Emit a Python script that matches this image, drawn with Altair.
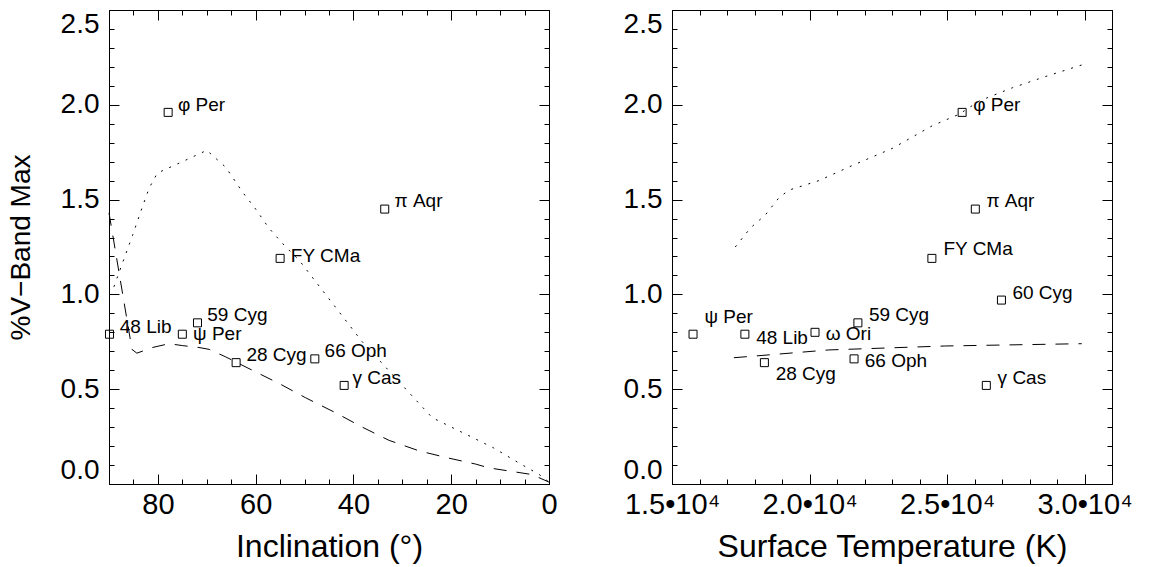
import altair as alt
import pandas as pd

# ---------------- data ----------------
# Left panel: inclination vs %V-band max
left_names = ["φ Per", "π Aqr", "FY CMa", "48 Lib", "59 Cyg", "ψ Per", "28 Cyg", "66 Oph", "γ Cas"]
left_incl = [77.9, 33.6, 55.0, 89.9, 71.9, 75.0, 64.0, 47.9, 41.9]
left_vmax = [1.96, 1.45, 1.19, 0.79, 0.85, 0.79, 0.64, 0.66, 0.52]
left_label_incl = [75.9, 31.6, 52.8, 87.8, 69.9, 72.8, 61.9, 45.9, 40.2]
left_label_vmax = [2.00, 1.49, 1.20, 0.83, 0.89, 0.79, 0.68, 0.70, 0.56]

# model curves, left panel
dot_incl = [89.0, 86.9, 85.2, 83.2, 81.8, 80.1, 75.0, 70.0, 66.1, 62.7, 60.0, 57.3, 54.2, 51.1, 38.2, 23.9, 11.3, 6.1, 2.0, 0.0]
dot_vmax = [1.04, 1.19, 1.31, 1.46, 1.56, 1.64, 1.70, 1.76, 1.67, 1.54, 1.45, 1.35, 1.26, 1.18, 0.75, 0.35, 0.19, 0.11, 0.05, 0.01]
dash_incl = [90.0, 85.3, 84.3, 81.1, 77.7, 75.0, 71.6, 69.5, 66.1, 60.7, 55.2, 49.8, 43.6, 38.2, 32.7, 26.6, 21.1, 15.0, 12.3, 3.5, 0.0]
dash_vmax = [1.43, 0.71, 0.69, 0.72, 0.74, 0.73, 0.72, 0.71, 0.67, 0.60, 0.53, 0.455, 0.375, 0.30, 0.23, 0.175, 0.14, 0.105, 0.085, 0.05, 0.01]

# Right panel: surface temperature vs %V-band max
right_names = ["φ Per", "π Aqr", "FY CMa", "60 Cyg", "ψ Per", "48 Lib", "ω Ori", "59 Cyg", "28 Cyg", "66 Oph", "γ Cas"]
right_teff = [25550, 26030, 24450, 26980, 15765, 17650, 20200, 21760, 18360, 21620, 26430]
right_vmax = [1.96, 1.45, 1.19, 0.97, 0.79, 0.79, 0.80, 0.85, 0.64, 0.66, 0.52]
right_label_teff = [25950, 26435, 24870, 27380, 16180, 18060, 20590, 22160, 18770, 22010, 26840]
right_label_vmax = [2.00, 1.49, 1.24, 1.01, 0.88, 0.77, 0.79, 0.89, 0.58, 0.65, 0.56]

rdot_teff = [17300, 17850, 18400, 18890, 19250, 20340, 21560, 23010, 24470, 25440, 26170, 27380, 28600, 29900]
rdot_vmax = [1.25, 1.35, 1.42, 1.51, 1.55, 1.60, 1.68, 1.77, 1.89, 1.95, 2.02, 2.09, 2.15, 2.21]
rdash_teff = [17250, 20700, 24950, 29900]
rdash_vmax = [0.666, 0.707, 0.728, 0.740]

# axis ticks
incl_major = [80, 60, 40, 20, 0]
incl_minor = [85, 75, 70, 65, 55, 50, 45, 35, 30, 25, 15, 10, 5]
teff_major = [15000, 20000, 25000, 30000]
teff_minor = [16000, 17000, 18000, 19000, 21000, 22000, 23000, 24000,
              26000, 27000, 28000, 29000]
v_major = [0.0, 0.5, 1.0, 1.5, 2.0, 2.5]
v_minor = [0.1, 0.2, 0.3, 0.4, 0.6, 0.7, 0.8, 0.9, 1.1, 1.2, 1.3, 1.4,
           1.6, 1.7, 1.8, 1.9, 2.1, 2.2, 2.3, 2.4]

# ---------------- chart ----------------
FONT = "Liberation Sans"
W, H = 440, 474
MAJ, MIN = 10, 5

yscale = alt.Scale(domain=[0, 2.5], nice=False, zero=False)


def tick_axis(orient, offset, values, size, domain):
    return alt.Axis(orient=orient, offset=offset, values=values, labels=False,
                    title=None, grid=False, tickSize=size, tickColor="#000000",
                    domain=domain, domainColor="black", domainWidth=1,
                    zindex=1)


def make_panel(names, xs, ys, lx, ly, dx, dy, ddx, ddy, xscale,
               main_x_axis, main_y_axis, xmaj, xmin):
    pts = pd.DataFrame({"x": xs, "y": ys})
    labs = pd.DataFrame({"x": lx, "y": ly, "name": names})
    dotted = pd.DataFrame({"x": dx, "y": dy})
    dashed = pd.DataFrame({"x": ddx, "y": ddy})

    def enc(xaxis=None, yaxis=None):
        return dict(
            x=alt.X("x:Q", scale=xscale, axis=xaxis),
            y=alt.Y("y:Q", scale=yscale, axis=yaxis),
        )

    layers = [
        alt.Chart(dotted).mark_line(color="black", strokeWidth=1,
                                    strokeDash=[2, 7])
        .encode(**enc()),
        alt.Chart(dashed).mark_line(color="black", strokeWidth=1,
                                    strokeDash=[13, 10])
        .encode(**enc()),
        alt.Chart(pts).mark_point(shape="square", filled=False, size=64,
                                  color="black", strokeWidth=1, opacity=1)
        .encode(**enc()),
        alt.Chart(labs).mark_text(align="left", baseline="middle", font=FONT,
                                  fontSize=19, color="black")
        .encode(text="name:N", **enc()),
        # main axes: labels, titles, bottom/left frame lines
        alt.Chart(pts).mark_point(opacity=0)
        .encode(**enc(main_x_axis, main_y_axis)),
        # inward ticks on the bottom and left edges
        alt.Chart(pts).mark_point(opacity=0)
        .encode(**enc(tick_axis("top", -H, xmaj, MAJ, False),
                      tick_axis("right", -W, v_major, MAJ, False))),
        alt.Chart(pts).mark_point(opacity=0)
        .encode(**enc(tick_axis("top", -H, xmin, MIN, False),
                      tick_axis("right", -W, v_minor, MIN, False))),
        # inward ticks on the top and right edges, plus frame lines
        alt.Chart(pts).mark_point(opacity=0)
        .encode(**enc(tick_axis("bottom", -H, xmaj, MAJ, True),
                      tick_axis("left", -W, v_major, MAJ, True))),
        alt.Chart(pts).mark_point(opacity=0)
        .encode(**enc(tick_axis("bottom", -H, xmin, MIN, False),
                      tick_axis("left", -W, v_minor, MIN, False))),
    ]
    return (alt.layer(*layers)
            .resolve_axis(x="independent", y="independent")
            .properties(width=W, height=H))


def x_axis(title, values, expr=None):
    kw = dict(orient="bottom", title=title, values=values, ticks=False,
              domain=True, domainColor="black", domainWidth=1, grid=False,
              labelFont=FONT, labelFontSize=29, labelColor="black",
              labelPadding=6, labelFlush=False, labelOverlap=False,
              titleFont=FONT, titleFontSize=32, titleFontWeight="normal",
              titleColor="black", titlePadding=12)
    if expr:
        kw["labelExpr"] = expr
    else:
        kw["format"] = "d"
    return alt.Axis(**kw)


def y_axis(title):
    kw = dict(orient="left", values=v_major, format=".1f", ticks=False,
              domain=True, domainColor="black", domainWidth=1,
              grid=False, labelFont=FONT, labelFontSize=28, labelColor="black",
              labelPadding=10, labelFlush=True,
              titleFont=FONT, titleFontSize=28, titleFontWeight="normal",
              titleColor="black", titlePadding=25)
    kw["title"] = title if title else None
    return alt.Axis(**kw)


left = make_panel(
    left_names, left_incl, left_vmax, left_label_incl, left_label_vmax,
    dot_incl, dot_vmax, dash_incl, dash_vmax,
    alt.Scale(domain=[0, 90], reverse=True, nice=False, zero=False),
    x_axis("Inclination (°)", incl_major),
    y_axis("%V\u2212Band Max"),
    incl_major, incl_minor)

right = make_panel(
    right_names, right_teff, right_vmax, right_label_teff, right_label_vmax,
    rdot_teff, rdot_vmax, rdash_teff, rdash_vmax,
    alt.Scale(domain=[15000, 31000], nice=False, zero=False),
    x_axis("Surface Temperature (K)", teff_major,
           "format(datum.value / 10000, '.1f') + '\u2022' + '10\u2074'"),
    y_axis(None),
    teff_major, teff_minor)

chart = alt.hconcat(left, right, spacing=123).properties(
    bounds="flush",
    padding={"left": 6, "top": 9, "right": 5, "bottom": 2},
    background="white",
).configure_view(stroke="black", strokeWidth=1)

chart.save("out.html", embed_options={"renderer": "svg", "actions": False})
